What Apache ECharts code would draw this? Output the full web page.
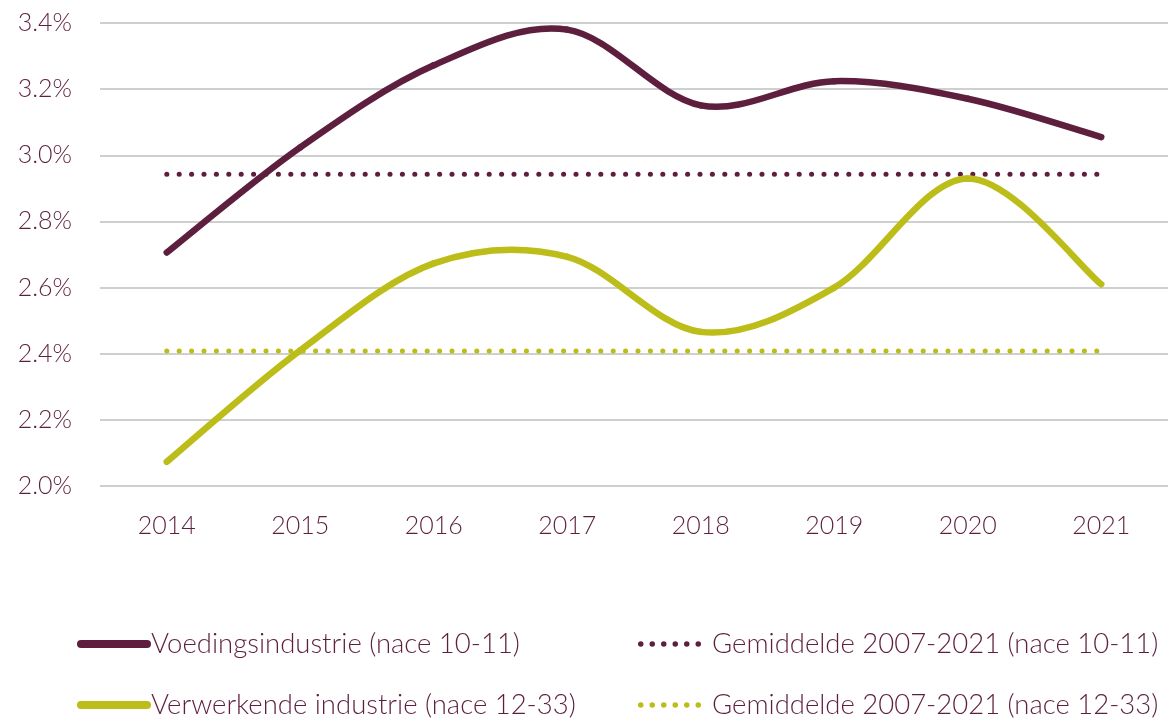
<!DOCTYPE html>
<html>
<head>
<meta charset="utf-8">
<script src="https://cdn.jsdelivr.net/npm/echarts@6/dist/echarts.min.js"></script>
<style>
  html, body { margin: 0; padding: 0; background: #fff; }
  #chart { width: 1170px; height: 719px; }
</style>
</head>
<body>
<div id="chart"></div>
<script>
// data (percentages)
var years = ['2014', '2015', '2016', '2017', '2018', '2019', '2020', '2021'];
var voeding = [2.706, 3.024, 3.272, 3.380, 3.151, 3.224, 3.171, 3.055];
var verwerkend = [2.073, 2.41, 2.673, 2.693, 2.466, 2.60, 2.930, 2.610];
var gemVoeding = [2.943, 2.943, 2.943, 2.943, 2.943, 2.943, 2.943, 2.943];
var gemVerwerkend = [2.408, 2.408, 2.408, 2.408, 2.408, 2.408, 2.408, 2.408];

var names = [
  'Voedingsindustrie (nace 10-11)',
  'Gemiddelde 2007-2021 (nace 10-11)',
  'Verwerkende industrie (nace 12-33)',
  'Gemiddelde 2007-2021 (nace 12-33)'
];

var maroon = '#5e1f3f';
var green = '#bcbd18';
var font = 'Lato, sans-serif';
var fontWeight = 300;

// legend icons
var lineIcon = 'path://M4,0 L70,0 A4,4 0 0 1 70,8 L4,8 A4,4 0 0 1 4,0 Z';
var dotIcon = 'path://';
for (var d = 0; d < 6; d++) {
  var cx = 2.75 + d * 11.5;
  dotIcon += 'M' + (cx - 2.75) + ',2.75 A2.75,2.75 0 1 0 ' + (cx + 2.75) + ',2.75 A2.75,2.75 0 1 0 ' + (cx - 2.75) + ',2.75 Z ';
}

var chart = echarts.init(document.getElementById('chart'));

// smooth curve through the points (Catmull-Rom), like the office-style smoothed line
function curveSeries(name, values, color) {
  return {
    name: name,
    type: 'custom',
    z: 4,
    itemStyle: { color: color },
    data: values.map(function (v, i) { return [i, v]; }),
    encode: { x: 0, y: 1 },
    renderItem: function (params, api) {
      var i = params.dataIndex;
      var n = values.length;
      if (i >= n - 1) return null;
      var pt = function (k) {
        k = Math.max(0, Math.min(n - 1, k));
        return api.coord([k, values[k]]);
      };
      var p0 = pt(i - 1), p1 = pt(i), p2 = pt(i + 1), p3 = pt(i + 2);
      var c1 = [p1[0] + (p2[0] - p0[0]) / 6, p1[1] + (p2[1] - p0[1]) / 6];
      var c2 = [p2[0] - (p3[0] - p1[0]) / 6, p2[1] - (p3[1] - p1[1]) / 6];
      return {
        type: 'bezierCurve',
        shape: {
          x1: p1[0], y1: p1[1], cpx1: c1[0], cpy1: c1[1],
          cpx2: c2[0], cpy2: c2[1], x2: p2[0], y2: p2[1]
        },
        style: { stroke: color, lineWidth: 6.5, lineCap: 'round', fill: null }
      };
    }
  };
}

function legendAt(name, icon, w, h, left, top, pad) {
  return {
    data: [{ name: name, icon: icon }],
    left: left,
    top: top,
    itemWidth: w,
    itemHeight: h,
    itemGap: 0,
    textStyle: {
      color: maroon, fontSize: 27.5, fontFamily: font, fontWeight: fontWeight,
      lineHeight: 30, padding: [0, 0, 0, pad]
    },
    selectedMode: false
  };
}

var option = {
  animation: false,
  backgroundColor: '#fff',
  grid: { left: 100, right: 2, top: 23, bottom: 233, containLabel: false },
  legend: [
    legendAt(names[0], lineIcon, 74, 8, 72, 624, -5),
    legendAt(names[1], dotIcon, 63, 5.5, 633, 624, 6),
    legendAt(names[2], lineIcon, 74, 8, 72, 685, -5),
    legendAt(names[3], dotIcon, 63, 5.5, 633, 685, 6)
  ],
  xAxis: {
    type: 'category',
    data: years,
    boundaryGap: true,
    axisLine: { show: false },
    axisTick: { show: false },
    axisLabel: { color: maroon, fontSize: 25, fontFamily: font, fontWeight: fontWeight, margin: 27 }
  },
  yAxis: {
    type: 'value',
    min: 2.0,
    max: 3.4,
    interval: 0.2,
    axisLine: { show: false },
    axisTick: { show: false },
    splitLine: { lineStyle: { color: '#bfbfbf', width: 1.5 } },
    axisLabel: {
      color: maroon, fontSize: 25, fontFamily: font, fontWeight: fontWeight, margin: 28,
      formatter: function (v) { return v.toFixed(1) + '%'; }
    }
  },
  series: [
    curveSeries(names[0], voeding, maroon),
    {
      name: names[1], type: 'line', data: gemVoeding, symbol: 'none',
      lineStyle: { color: maroon, width: 5, type: [0.1, 12.3], cap: 'round' }, itemStyle: { color: maroon }, z: 3
    },
    curveSeries(names[2], verwerkend, green),
    {
      name: names[3], type: 'line', data: gemVerwerkend, symbol: 'none',
      lineStyle: { color: green, width: 5, type: [0.1, 12.3], cap: 'round' }, itemStyle: { color: green }, z: 3
    }
  ]
};

chart.setOption(option);
</script>
</body>
</html>
